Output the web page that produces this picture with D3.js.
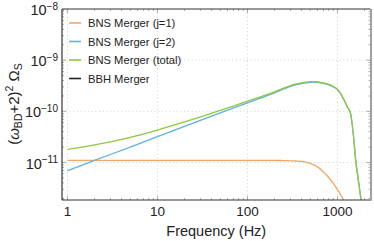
<!DOCTYPE html>
<html>
<head>
<meta charset="utf-8">
<script src="https://cdn.jsdelivr.net/npm/d3@7"></script>
<style>
  body { margin: 0; background: #fff; }
  svg { font-family: "Liberation Sans", Arial, sans-serif; }
</style>
</head>
<body>
<svg width="374" height="241"></svg>
<script>
// values
var freqs = [1, 2, 5, 10, 20, 50, 100, 150, 200, 250, 300, 350, 400, 450, 500, 550, 600, 700, 800, 900, 1000, 1100, 1200, 1300, 1400, 1500, 1600, 1700, 1800, 1900];
var bnsJ1 = [1.1e-11, 1.1e-11, 1.1e-11, 1.1e-11, 1.1e-11, 1.1e-11, 1.1e-11, 1.1e-11, 1.1e-11, 1.09e-11, 1.08e-11, 1.07e-11, 1.05e-11, 1.01e-11, 9.6e-12, 8.9e-12, 8.2e-12, 6.5e-12, 5.1e-12, 3.9e-12, 2.95e-12, 2.25e-12, 1.7e-12, 1.25e-12, null, null, null, null, null, null];
var bnsJ2 = [6.9e-12, 1.1e-11, 2.0e-11, 3.2e-11, 5.1e-11, 9.3e-11, 1.47e-10, 1.9e-10, 2.29e-10, 2.7e-10, 3.08e-10, 3.32e-10, 3.5e-10, 3.62e-10, 3.7e-10, 3.73e-10, 3.7e-10, 3.53e-10, 3.3e-10, 3.01e-10, 2.67e-10, 2.12e-10, 1.58e-10, 1.19e-10, 9e-11, 3.6e-11, 1.05e-11, 4.8e-12, 2.3e-12, 1.2e-12];
var bnsTotal = [1.8e-11, 2.2e-11, 3.1e-11, 4.3e-11, 6.2e-11, 1.04e-10, 1.58e-10, 2.01e-10, 2.4e-10, 2.81e-10, 3.19e-10, 3.43e-10, 3.6e-10, 3.72e-10, 3.8e-10, 3.82e-10, 3.78e-10, 3.6e-10, 3.35e-10, 3.05e-10, 2.7e-10, 2.15e-10, 1.6e-10, 1.2e-10, 9e-11, 3.6e-11, 1.05e-11, 4.8e-12, 2.3e-12, 1.2e-12];
var xTicks = [1, 10, 100, 1000];
var yTicks = [1e-11, 1e-10, 1e-9, 1e-8];
var yTickExp = ["\u221211", "\u221210", "\u22129", "\u22128"];
var seriesNames = ["BNS Merger (j=1)", "BNS Merger (j=2)", "BNS Merger (total)", "BBH Merger"];
var seriesColors = ["#f6a664", "#5cb2e2", "#8fc740", "#222222"];

var svg = d3.select("svg");
var pLeft = 62, pRight = 370.5, pTop = 9, pBottom = 200;

var x = d3.scaleLog().domain([0.87, 2330]).range([pLeft, pRight]);
var y = d3.scaleLog().domain([1.85e-12, 1e-8]).range([pBottom, pTop]);

svg.append("defs").append("clipPath").attr("id", "clip")
  .append("rect").attr("x", pLeft).attr("y", pTop)
  .attr("width", pRight - pLeft).attr("height", pBottom - pTop);

// grid
var grid = svg.append("g").attr("stroke", "#d8d8d8").attr("stroke-dasharray", "1.2,2.5").attr("stroke-width", 1);
xTicks.forEach(function(t) {
  grid.append("line").attr("x1", x(t)).attr("x2", x(t)).attr("y1", pTop).attr("y2", pBottom);
});
yTicks.slice(0, 3).forEach(function(t) {
  grid.append("line").attr("x1", pLeft).attr("x2", pRight).attr("y1", y(t)).attr("y2", y(t));
});

// minor + major ticks
var ticks = svg.append("g").attr("stroke", "#999").attr("stroke-width", 0.8);
var xMinor = [], yMinor = [];
[0.1, 1, 10, 100, 1000].forEach(function(d) {
  for (var k = 1; k < 10; k++) {
    var v = d * k;
    if (v > 0.87 && v < 2330) xMinor.push({v: v, major: k == 1});
  }
});
[1e-12, 1e-11, 1e-10, 1e-9].forEach(function(d) {
  for (var k = 1; k < 10; k++) {
    var v = d * k;
    if (v > 1.85e-12 && v <= 1e-8) yMinor.push({v: v, major: k == 1});
  }
});
xMinor.forEach(function(t) {
  var len = t.major ? 4 : 2;
  ticks.append("line").attr("x1", x(t.v)).attr("x2", x(t.v)).attr("y1", pBottom).attr("y2", pBottom - len);
  ticks.append("line").attr("x1", x(t.v)).attr("x2", x(t.v)).attr("y1", pTop).attr("y2", pTop + len);
});
yMinor.forEach(function(t) {
  var len = t.major ? 4 : 2;
  ticks.append("line").attr("x1", pLeft).attr("x2", pLeft + len).attr("y1", y(t.v)).attr("y2", y(t.v));
  ticks.append("line").attr("x1", pRight).attr("x2", pRight - len).attr("y1", y(t.v)).attr("y2", y(t.v));
});

// curves
var line = d3.line()
  .defined(function(d) { return d[1] != null; })
  .x(function(d) { return x(d[0]); })
  .y(function(d) { return y(d[1]); })
  .curve(d3.curveMonotoneX);

var curves = svg.append("g").attr("clip-path", "url(#clip)").attr("fill", "none").attr("stroke-width", 1.3);
[bnsJ1, bnsJ2, bnsTotal].forEach(function(vals, i) {
  curves.append("path")
    .datum(freqs.map(function(f, j) { return [f, vals[j]]; }))
    .attr("stroke", seriesColors[i])
    .attr("d", line);
});

// frame
svg.append("line").attr("x1", pLeft).attr("x2", pRight).attr("y1", pTop).attr("y2", pTop).attr("stroke", "#333").attr("stroke-width", 1);
svg.append("line").attr("x1", pLeft).attr("x2", pLeft).attr("y1", pTop).attr("y2", pBottom).attr("stroke", "#333").attr("stroke-width", 1.2);
svg.append("line").attr("x1", pLeft).attr("x2", pRight + 1).attr("y1", pBottom).attr("y2", pBottom).attr("stroke", "#333").attr("stroke-width", 1.2);
svg.append("line").attr("x1", pRight + 0.5).attr("x2", pRight + 0.5).attr("y1", pTop).attr("y2", pBottom).attr("stroke", "#a0a0a0").attr("stroke-width", 2);

// x tick labels
svg.append("g").selectAll("text").data(xTicks).enter().append("text")
  .attr("x", function(d) { return x(d); })
  .attr("y", 216)
  .attr("text-anchor", "middle")
  .attr("font-size", 13.5)
  .attr("fill", "#222")
  .text(function(d) { return d; });

// y tick labels
var yl = svg.append("g").selectAll("text").data(yTicks).enter().append("text")
  .attr("x", 58)
  .attr("y", function(d) { return y(d) + 6; })
  .attr("text-anchor", "end")
  .attr("font-size", 14.5)
  .attr("fill", "#222");
yl.append("tspan").text("10");
yl.append("tspan").attr("dy", -5.5).attr("font-size", 10).text(function(d, i) { return yTickExp[i]; });

// axis titles
svg.append("text")
  .attr("x", (pLeft + pRight) / 2)
  .attr("y", 236)
  .attr("text-anchor", "middle")
  .attr("font-size", 14.5)
  .attr("fill", "#222")
  .text("Frequency (Hz)");

var yt = svg.append("text")
  .attr("transform", "translate(19,104) rotate(-90)")
  .attr("text-anchor", "middle")
  .attr("font-size", 15)
  .attr("fill", "#222");
yt.append("tspan").text("(");
yt.append("tspan").attr("font-style", "italic").text("\u03c9");
yt.append("tspan").attr("font-size", 10.5).attr("dy", 3).text("BD");
yt.append("tspan").attr("dy", -3).text("+2)");
yt.append("tspan").attr("font-size", 10.5).attr("dy", -6).text("2");
yt.append("tspan").attr("dy", 6).text(" \u03a9");
yt.append("tspan").attr("font-size", 10.5).attr("dy", 3).text("S");

// legend
var legend = svg.append("g").selectAll("g").data(seriesNames).enter().append("g")
  .attr("transform", function(d, i) { return "translate(69," + (23 + i * 18.5) + ")"; });
legend.append("line").attr("x1", 0).attr("x2", 12).attr("y1", 0).attr("y2", 0)
  .attr("stroke", function(d, i) { return seriesColors[i]; }).attr("stroke-width", 1.6);
legend.append("text").attr("x", 19).attr("y", 4).attr("font-size", 11.2).attr("fill", "#222")
  .text(function(d) { return d; });
</script>
</body>
</html>
